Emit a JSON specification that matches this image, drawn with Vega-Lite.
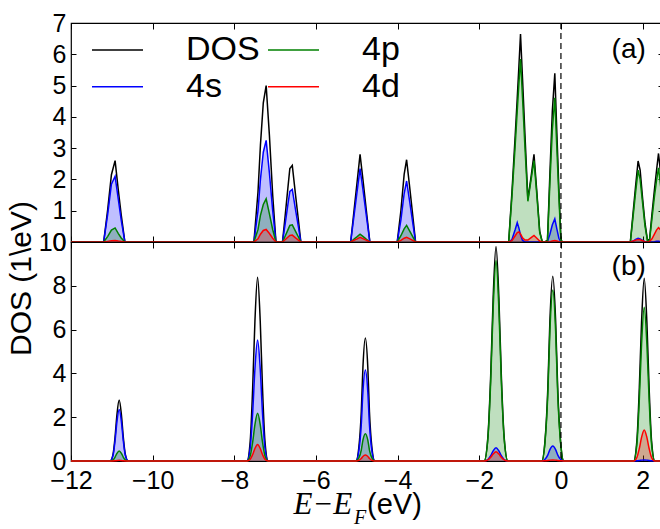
{
"$schema": "https://vega.github.io/schema/vega-lite/v6.json",
"background": "white",
"padding": {"left": 5, "top": 10, "right": 0, "bottom": 0},
"spacing": 0,
"bounds": "flush",
"config": {
  "font": "Liberation Sans",
  "view": {"stroke": "black", "strokeWidth": 1.2},
  "axis": {"grid": false, "domain": false, "tickColor": "black", "tickWidth": 1, "labelColor": "black", "labelFont": "Liberation Sans", "labelFontSize": 25, "labelFlush": false, "labelOverlap": false}
},
"resolve": {"scale": {"color": "independent"}},
"datasets": {
"a": [
{"s":"DOS","E":-12,"v":0},
{"s":"DOS","E":-11.2,"v":0},{"s":"DOS","E":-11.1,"v":1.05},{"s":"DOS","E":-11.01,"v":2.15},{"s":"DOS","E":-10.92,"v":2.6},{"s":"DOS","E":-10.84,"v":1.64},{"s":"DOS","E":-10.77,"v":0.87},{"s":"DOS","E":-10.68,"v":0},
{"s":"DOS","E":-7.52,"v":0},{"s":"DOS","E":-7.42,"v":1.6},{"s":"DOS","E":-7.36,"v":3.1},{"s":"DOS","E":-7.29,"v":4.45},{"s":"DOS","E":-7.22,"v":5.0},{"s":"DOS","E":-7.14,"v":3.4},{"s":"DOS","E":-7.06,"v":1.5},{"s":"DOS","E":-6.98,"v":0},
{"s":"DOS","E":-6.82,"v":0},{"s":"DOS","E":-6.75,"v":0.9},{"s":"DOS","E":-6.69,"v":1.7},{"s":"DOS","E":-6.64,"v":2.35},{"s":"DOS","E":-6.58,"v":2.45},{"s":"DOS","E":-6.5,"v":1.5},{"s":"DOS","E":-6.43,"v":0.7},{"s":"DOS","E":-6.37,"v":0},
{"s":"DOS","E":-5.15,"v":0},{"s":"DOS","E":-5.06,"v":1.1},{"s":"DOS","E":-4.99,"v":1.95},{"s":"DOS","E":-4.92,"v":2.8},{"s":"DOS","E":-4.85,"v":2.0},{"s":"DOS","E":-4.77,"v":1.05},{"s":"DOS","E":-4.68,"v":0},
{"s":"DOS","E":-4.01,"v":0},{"s":"DOS","E":-3.92,"v":1.0},{"s":"DOS","E":-3.84,"v":2.16},{"s":"DOS","E":-3.78,"v":2.63},{"s":"DOS","E":-3.7,"v":1.7},{"s":"DOS","E":-3.63,"v":0.85},{"s":"DOS","E":-3.56,"v":0},
{"s":"DOS","E":-1.28,"v":0},{"s":"DOS","E":-1.2,"v":1.6},{"s":"DOS","E":-1.12,"v":3.4},{"s":"DOS","E":-1.07,"v":4.6},{"s":"DOS","E":-1.03,"v":5.6},{"s":"DOS","E":-0.99,"v":6.65},{"s":"DOS","E":-0.94,"v":5.2},{"s":"DOS","E":-0.88,"v":3.4},{"s":"DOS","E":-0.81,"v":1.36},{"s":"DOS","E":-0.73,"v":2.1},{"s":"DOS","E":-0.66,"v":2.8},{"s":"DOS","E":-0.59,"v":1.6},{"s":"DOS","E":-0.52,"v":0.35},{"s":"DOS","E":-0.46,"v":0.02},{"s":"DOS","E":-0.4,"v":0},{"s":"DOS","E":-0.33,"v":0.05},{"s":"DOS","E":-0.27,"v":2.2},{"s":"DOS","E":-0.21,"v":4.2},{"s":"DOS","E":-0.15,"v":5.39},{"s":"DOS","E":-0.1,"v":3.5},{"s":"DOS","E":-0.05,"v":1.7},{"s":"DOS","E":0,"v":0.05},{"s":"DOS","E":0.05,"v":0},
{"s":"DOS","E":1.7,"v":0},{"s":"DOS","E":1.77,"v":0.97},{"s":"DOS","E":1.83,"v":1.8},{"s":"DOS","E":1.89,"v":2.59},{"s":"DOS","E":1.94,"v":2.3},{"s":"DOS","E":2.0,"v":1.4},{"s":"DOS","E":2.06,"v":0.6},{"s":"DOS","E":2.12,"v":0.05},{"s":"DOS","E":2.17,"v":0.08},{"s":"DOS","E":2.23,"v":0.9},{"s":"DOS","E":2.29,"v":1.67},{"s":"DOS","E":2.34,"v":2.27},{"s":"DOS","E":2.39,"v":2.83},{"s":"DOS","E":2.45,"v":2.1},{"s":"DOS","E":2.5,"v":1.5},

{"s":"4s","E":-12,"v":0},
{"s":"4s","E":-11.2,"v":0},{"s":"4s","E":-11.1,"v":0.9},{"s":"4s","E":-11.01,"v":1.85},{"s":"4s","E":-10.92,"v":2.1},{"s":"4s","E":-10.84,"v":1.35},{"s":"4s","E":-10.77,"v":0.7},{"s":"4s","E":-10.68,"v":0},
{"s":"4s","E":-7.52,"v":0},{"s":"4s","E":-7.42,"v":1.0},{"s":"4s","E":-7.36,"v":2.0},{"s":"4s","E":-7.29,"v":2.87},{"s":"4s","E":-7.22,"v":3.25},{"s":"4s","E":-7.14,"v":2.2},{"s":"4s","E":-7.06,"v":1.0},{"s":"4s","E":-6.98,"v":0},
{"s":"4s","E":-6.82,"v":0},{"s":"4s","E":-6.75,"v":0.62},{"s":"4s","E":-6.69,"v":1.18},{"s":"4s","E":-6.64,"v":1.62},{"s":"4s","E":-6.58,"v":1.68},{"s":"4s","E":-6.5,"v":1.03},{"s":"4s","E":-6.43,"v":0.48},{"s":"4s","E":-6.37,"v":0},
{"s":"4s","E":-5.15,"v":0},{"s":"4s","E":-5.06,"v":0.92},{"s":"4s","E":-4.99,"v":1.64},{"s":"4s","E":-4.92,"v":2.35},{"s":"4s","E":-4.85,"v":1.68},{"s":"4s","E":-4.77,"v":0.88},{"s":"4s","E":-4.68,"v":0},
{"s":"4s","E":-4.01,"v":0},{"s":"4s","E":-3.92,"v":0.7},{"s":"4s","E":-3.84,"v":1.55},{"s":"4s","E":-3.78,"v":1.95},{"s":"4s","E":-3.7,"v":1.25},{"s":"4s","E":-3.63,"v":0.62},{"s":"4s","E":-3.56,"v":0},
{"s":"4s","E":-1.28,"v":0},{"s":"4s","E":-1.2,"v":0.08},{"s":"4s","E":-1.12,"v":0.4},{"s":"4s","E":-1.07,"v":0.62},{"s":"4s","E":-1.03,"v":0.45},{"s":"4s","E":-0.99,"v":0.22},{"s":"4s","E":-0.94,"v":0.05},{"s":"4s","E":-0.88,"v":0},{"s":"4s","E":-0.4,"v":0},{"s":"4s","E":-0.33,"v":0.02},{"s":"4s","E":-0.27,"v":0.25},{"s":"4s","E":-0.21,"v":0.55},{"s":"4s","E":-0.15,"v":0.74},{"s":"4s","E":-0.1,"v":0.42},{"s":"4s","E":-0.05,"v":0.12},{"s":"4s","E":0,"v":0},{"s":"4s","E":0.05,"v":0},
{"s":"4s","E":1.7,"v":0},{"s":"4s","E":1.77,"v":0.03},{"s":"4s","E":1.83,"v":0.08},{"s":"4s","E":1.89,"v":0.12},{"s":"4s","E":1.94,"v":0.1},{"s":"4s","E":2.0,"v":0.05},{"s":"4s","E":2.06,"v":0.01},{"s":"4s","E":2.12,"v":0},{"s":"4s","E":2.23,"v":0},{"s":"4s","E":2.29,"v":0.01},{"s":"4s","E":2.34,"v":0.02},{"s":"4s","E":2.39,"v":0.02},{"s":"4s","E":2.45,"v":0.01},{"s":"4s","E":2.5,"v":0.01},

{"s":"4p","E":-12,"v":0},
{"s":"4p","E":-11.2,"v":0},{"s":"4p","E":-11.1,"v":0.18},{"s":"4p","E":-11.01,"v":0.38},{"s":"4p","E":-10.92,"v":0.45},{"s":"4p","E":-10.84,"v":0.27},{"s":"4p","E":-10.77,"v":0.13},{"s":"4p","E":-10.68,"v":0},
{"s":"4p","E":-7.52,"v":0},{"s":"4p","E":-7.42,"v":0.4},{"s":"4p","E":-7.36,"v":0.85},{"s":"4p","E":-7.29,"v":1.2},{"s":"4p","E":-7.22,"v":1.38},{"s":"4p","E":-7.14,"v":0.9},{"s":"4p","E":-7.06,"v":0.4},{"s":"4p","E":-6.98,"v":0},
{"s":"4p","E":-6.82,"v":0},{"s":"4p","E":-6.75,"v":0.2},{"s":"4p","E":-6.69,"v":0.38},{"s":"4p","E":-6.64,"v":0.53},{"s":"4p","E":-6.58,"v":0.55},{"s":"4p","E":-6.5,"v":0.34},{"s":"4p","E":-6.43,"v":0.16},{"s":"4p","E":-6.37,"v":0},
{"s":"4p","E":-5.15,"v":0},{"s":"4p","E":-5.06,"v":0.1},{"s":"4p","E":-4.99,"v":0.17},{"s":"4p","E":-4.92,"v":0.25},{"s":"4p","E":-4.85,"v":0.18},{"s":"4p","E":-4.77,"v":0.09},{"s":"4p","E":-4.68,"v":0},
{"s":"4p","E":-4.01,"v":0},{"s":"4p","E":-3.92,"v":0.2},{"s":"4p","E":-3.84,"v":0.42},{"s":"4p","E":-3.78,"v":0.53},{"s":"4p","E":-3.7,"v":0.34},{"s":"4p","E":-3.63,"v":0.17},{"s":"4p","E":-3.56,"v":0},
{"s":"4p","E":-1.28,"v":0},{"s":"4p","E":-1.2,"v":1.45},{"s":"4p","E":-1.12,"v":3.1},{"s":"4p","E":-1.07,"v":4.2},{"s":"4p","E":-1.03,"v":5.05},{"s":"4p","E":-0.99,"v":5.85},{"s":"4p","E":-0.94,"v":4.6},{"s":"4p","E":-0.88,"v":3.0},{"s":"4p","E":-0.81,"v":1.3},{"s":"4p","E":-0.73,"v":2.0},{"s":"4p","E":-0.66,"v":2.6},{"s":"4p","E":-0.59,"v":1.5},{"s":"4p","E":-0.52,"v":0.3},{"s":"4p","E":-0.46,"v":0.02},{"s":"4p","E":-0.4,"v":0},{"s":"4p","E":-0.33,"v":0.03},{"s":"4p","E":-0.27,"v":1.9},{"s":"4p","E":-0.21,"v":3.6},{"s":"4p","E":-0.15,"v":4.61},{"s":"4p","E":-0.1,"v":3.0},{"s":"4p","E":-0.05,"v":1.45},{"s":"4p","E":0,"v":0.04},{"s":"4p","E":0.05,"v":0},
{"s":"4p","E":1.7,"v":0},{"s":"4p","E":1.77,"v":0.85},{"s":"4p","E":1.83,"v":1.6},{"s":"4p","E":1.89,"v":2.3},{"s":"4p","E":1.94,"v":2.0},{"s":"4p","E":2.0,"v":1.25},{"s":"4p","E":2.06,"v":0.5},{"s":"4p","E":2.12,"v":0.04},{"s":"4p","E":2.17,"v":0.05},{"s":"4p","E":2.23,"v":0.75},{"s":"4p","E":2.29,"v":1.45},{"s":"4p","E":2.34,"v":1.95},{"s":"4p","E":2.39,"v":2.37},{"s":"4p","E":2.45,"v":1.7},{"s":"4p","E":2.5,"v":1.15},

{"s":"4d","E":-12,"v":0},
{"s":"4d","E":-11.2,"v":0},{"s":"4d","E":-11.1,"v":0.02},{"s":"4d","E":-11.01,"v":0.04},{"s":"4d","E":-10.92,"v":0.05},{"s":"4d","E":-10.84,"v":0.03},{"s":"4d","E":-10.77,"v":0.02},{"s":"4d","E":-10.68,"v":0},
{"s":"4d","E":-7.52,"v":0},{"s":"4d","E":-7.42,"v":0.1},{"s":"4d","E":-7.36,"v":0.25},{"s":"4d","E":-7.29,"v":0.37},{"s":"4d","E":-7.22,"v":0.4},{"s":"4d","E":-7.14,"v":0.27},{"s":"4d","E":-7.06,"v":0.12},{"s":"4d","E":-6.98,"v":0},
{"s":"4d","E":-6.82,"v":0},{"s":"4d","E":-6.75,"v":0.08},{"s":"4d","E":-6.69,"v":0.15},{"s":"4d","E":-6.64,"v":0.21},{"s":"4d","E":-6.58,"v":0.22},{"s":"4d","E":-6.5,"v":0.13},{"s":"4d","E":-6.43,"v":0.06},{"s":"4d","E":-6.37,"v":0},
{"s":"4d","E":-5.15,"v":0},{"s":"4d","E":-5.06,"v":0.06},{"s":"4d","E":-4.99,"v":0.1},{"s":"4d","E":-4.92,"v":0.15},{"s":"4d","E":-4.85,"v":0.11},{"s":"4d","E":-4.77,"v":0.06},{"s":"4d","E":-4.68,"v":0},
{"s":"4d","E":-4.01,"v":0},{"s":"4d","E":-3.92,"v":0.05},{"s":"4d","E":-3.84,"v":0.12},{"s":"4d","E":-3.78,"v":0.15},{"s":"4d","E":-3.7,"v":0.1},{"s":"4d","E":-3.63,"v":0.05},{"s":"4d","E":-3.56,"v":0},
{"s":"4d","E":-1.28,"v":0},{"s":"4d","E":-1.2,"v":0.04},{"s":"4d","E":-1.12,"v":0.2},{"s":"4d","E":-1.07,"v":0.3},{"s":"4d","E":-1.03,"v":0.32},{"s":"4d","E":-0.99,"v":0.26},{"s":"4d","E":-0.94,"v":0.13},{"s":"4d","E":-0.88,"v":0.06},{"s":"4d","E":-0.81,"v":0.06},{"s":"4d","E":-0.73,"v":0.14},{"s":"4d","E":-0.66,"v":0.21},{"s":"4d","E":-0.59,"v":0.12},{"s":"4d","E":-0.52,"v":0.03},{"s":"4d","E":-0.46,"v":0},{"s":"4d","E":-0.33,"v":0},{"s":"4d","E":-0.27,"v":0.01},{"s":"4d","E":-0.21,"v":0.03},{"s":"4d","E":-0.15,"v":0.05},{"s":"4d","E":-0.1,"v":0.03},{"s":"4d","E":-0.05,"v":0.01},{"s":"4d","E":0,"v":0},
{"s":"4d","E":1.7,"v":0},{"s":"4d","E":1.77,"v":0.03},{"s":"4d","E":1.83,"v":0.06},{"s":"4d","E":1.89,"v":0.08},{"s":"4d","E":1.94,"v":0.07},{"s":"4d","E":2.0,"v":0.04},{"s":"4d","E":2.06,"v":0.01},{"s":"4d","E":2.12,"v":0},{"s":"4d","E":2.17,"v":0.02},{"s":"4d","E":2.23,"v":0.1},{"s":"4d","E":2.29,"v":0.25},{"s":"4d","E":2.34,"v":0.38},{"s":"4d","E":2.39,"v":0.46},{"s":"4d","E":2.45,"v":0.38},{"s":"4d","E":2.5,"v":0.3}
],
"b": [
{"s":"DOS","E":-12,"v":0},
{"s":"DOS","E":-11.04,"v":0},{"s":"DOS","E":-10.97,"v":0.31},{"s":"DOS","E":-10.92,"v":1.11},{"s":"DOS","E":-10.875,"v":2.11},{"s":"DOS","E":-10.82,"v":2.78},{"s":"DOS","E":-10.765,"v":2.11},{"s":"DOS","E":-10.72,"v":1.11},{"s":"DOS","E":-10.67,"v":0.31},{"s":"DOS","E":-10.6,"v":0},
{"s":"DOS","E":-7.69,"v":0},{"s":"DOS","E":-7.61,"v":0.92},{"s":"DOS","E":-7.55,"v":3.36},{"s":"DOS","E":-7.495,"v":6.38},{"s":"DOS","E":-7.43,"v":8.39},{"s":"DOS","E":-7.365,"v":6.38},{"s":"DOS","E":-7.31,"v":3.36},{"s":"DOS","E":-7.25,"v":0.92},{"s":"DOS","E":-7.17,"v":0},
{"s":"DOS","E":-5.02,"v":0},{"s":"DOS","E":-4.95,"v":0.62},{"s":"DOS","E":-4.89,"v":2.25},{"s":"DOS","E":-4.85,"v":4.27},{"s":"DOS","E":-4.79,"v":5.62},{"s":"DOS","E":-4.73,"v":4.27},{"s":"DOS","E":-4.69,"v":2.25},{"s":"DOS","E":-4.63,"v":0.62},{"s":"DOS","E":-4.56,"v":0},
{"s":"DOS","E":-1.88,"v":0},{"s":"DOS","E":-1.79,"v":1.08},{"s":"DOS","E":-1.72,"v":3.92},{"s":"DOS","E":-1.66,"v":7.45},{"s":"DOS","E":-1.59,"v":9.8},{"s":"DOS","E":-1.52,"v":7.45},{"s":"DOS","E":-1.46,"v":3.92},{"s":"DOS","E":-1.39,"v":1.08},{"s":"DOS","E":-1.3,"v":0},
{"s":"DOS","E":-0.47,"v":0},{"s":"DOS","E":-0.39,"v":0.93},{"s":"DOS","E":-0.32,"v":3.38},{"s":"DOS","E":-0.27,"v":6.41},{"s":"DOS","E":-0.2,"v":8.44},{"s":"DOS","E":-0.13,"v":6.41},{"s":"DOS","E":-0.08,"v":3.38},{"s":"DOS","E":-0.01,"v":0.93},{"s":"DOS","E":0.07,"v":0},
{"s":"DOS","E":1.78,"v":0},{"s":"DOS","E":1.86,"v":0.92},{"s":"DOS","E":1.92,"v":3.34},{"s":"DOS","E":1.975,"v":6.35},{"s":"DOS","E":2.04,"v":8.35},{"s":"DOS","E":2.105,"v":6.35},{"s":"DOS","E":2.16,"v":3.34},{"s":"DOS","E":2.22,"v":0.92},{"s":"DOS","E":2.3,"v":0},
{"s":"DOS","E":2.5,"v":0},

{"s":"4s","E":-12,"v":0},
{"s":"4s","E":-11.04,"v":0},{"s":"4s","E":-10.97,"v":0.26},{"s":"4s","E":-10.92,"v":0.94},{"s":"4s","E":-10.875,"v":1.79},{"s":"4s","E":-10.82,"v":2.35},{"s":"4s","E":-10.765,"v":1.79},{"s":"4s","E":-10.72,"v":0.94},{"s":"4s","E":-10.67,"v":0.26},{"s":"4s","E":-10.6,"v":0},
{"s":"4s","E":-7.69,"v":0},{"s":"4s","E":-7.61,"v":0.61},{"s":"4s","E":-7.55,"v":2.21},{"s":"4s","E":-7.495,"v":4.2},{"s":"4s","E":-7.43,"v":5.52},{"s":"4s","E":-7.365,"v":4.2},{"s":"4s","E":-7.31,"v":2.21},{"s":"4s","E":-7.25,"v":0.61},{"s":"4s","E":-7.17,"v":0},
{"s":"4s","E":-5.02,"v":0},{"s":"4s","E":-4.95,"v":0.46},{"s":"4s","E":-4.89,"v":1.66},{"s":"4s","E":-4.85,"v":3.15},{"s":"4s","E":-4.79,"v":4.15},{"s":"4s","E":-4.73,"v":3.15},{"s":"4s","E":-4.69,"v":1.66},{"s":"4s","E":-4.63,"v":0.46},{"s":"4s","E":-4.56,"v":0},
{"s":"4s","E":-1.88,"v":0},{"s":"4s","E":-1.79,"v":0.07},{"s":"4s","E":-1.72,"v":0.24},{"s":"4s","E":-1.66,"v":0.46},{"s":"4s","E":-1.59,"v":0.61},{"s":"4s","E":-1.52,"v":0.46},{"s":"4s","E":-1.46,"v":0.24},{"s":"4s","E":-1.39,"v":0.07},{"s":"4s","E":-1.3,"v":0},
{"s":"4s","E":-0.47,"v":0},{"s":"4s","E":-0.39,"v":0.08},{"s":"4s","E":-0.32,"v":0.28},{"s":"4s","E":-0.27,"v":0.52},{"s":"4s","E":-0.2,"v":0.69},{"s":"4s","E":-0.13,"v":0.52},{"s":"4s","E":-0.08,"v":0.28},{"s":"4s","E":-0.01,"v":0.08},{"s":"4s","E":0.07,"v":0},
{"s":"4s","E":1.78,"v":0},{"s":"4s","E":1.86,"v":0.01},{"s":"4s","E":1.92,"v":0.02},{"s":"4s","E":1.975,"v":0.04},{"s":"4s","E":2.04,"v":0.05},{"s":"4s","E":2.105,"v":0.04},{"s":"4s","E":2.16,"v":0.02},{"s":"4s","E":2.22,"v":0.01},{"s":"4s","E":2.3,"v":0},
{"s":"4s","E":2.5,"v":0},

{"s":"4p","E":-12,"v":0},
{"s":"4p","E":-11.04,"v":0},{"s":"4p","E":-10.97,"v":0.05},{"s":"4p","E":-10.92,"v":0.18},{"s":"4p","E":-10.875,"v":0.35},{"s":"4p","E":-10.82,"v":0.46},{"s":"4p","E":-10.765,"v":0.35},{"s":"4p","E":-10.72,"v":0.18},{"s":"4p","E":-10.67,"v":0.05},{"s":"4p","E":-10.6,"v":0},
{"s":"4p","E":-7.69,"v":0},{"s":"4p","E":-7.61,"v":0.24},{"s":"4p","E":-7.55,"v":0.87},{"s":"4p","E":-7.495,"v":1.66},{"s":"4p","E":-7.43,"v":2.18},{"s":"4p","E":-7.365,"v":1.66},{"s":"4p","E":-7.31,"v":0.87},{"s":"4p","E":-7.25,"v":0.24},{"s":"4p","E":-7.17,"v":0},
{"s":"4p","E":-5.02,"v":0},{"s":"4p","E":-4.95,"v":0.14},{"s":"4p","E":-4.89,"v":0.5},{"s":"4p","E":-4.85,"v":0.95},{"s":"4p","E":-4.79,"v":1.25},{"s":"4p","E":-4.73,"v":0.95},{"s":"4p","E":-4.69,"v":0.5},{"s":"4p","E":-4.63,"v":0.14},{"s":"4p","E":-4.56,"v":0},
{"s":"4p","E":-1.88,"v":0},{"s":"4p","E":-1.79,"v":1.01},{"s":"4p","E":-1.72,"v":3.66},{"s":"4p","E":-1.66,"v":6.96},{"s":"4p","E":-1.59,"v":9.16},{"s":"4p","E":-1.52,"v":6.96},{"s":"4p","E":-1.46,"v":3.66},{"s":"4p","E":-1.39,"v":1.01},{"s":"4p","E":-1.3,"v":0},
{"s":"4p","E":-0.47,"v":0},{"s":"4p","E":-0.39,"v":0.86},{"s":"4p","E":-0.32,"v":3.12},{"s":"4p","E":-0.27,"v":5.94},{"s":"4p","E":-0.2,"v":7.81},{"s":"4p","E":-0.13,"v":5.94},{"s":"4p","E":-0.08,"v":3.12},{"s":"4p","E":-0.01,"v":0.86},{"s":"4p","E":0.07,"v":0},
{"s":"4p","E":1.78,"v":0},{"s":"4p","E":1.86,"v":0.77},{"s":"4p","E":1.92,"v":2.81},{"s":"4p","E":1.975,"v":5.34},{"s":"4p","E":2.04,"v":7.02},{"s":"4p","E":2.105,"v":5.34},{"s":"4p","E":2.16,"v":2.81},{"s":"4p","E":2.22,"v":0.77},{"s":"4p","E":2.3,"v":0},
{"s":"4p","E":2.5,"v":0},

{"s":"4d","E":-12,"v":0},
{"s":"4d","E":-11.04,"v":0},{"s":"4d","E":-10.92,"v":0.01},{"s":"4d","E":-10.875,"v":0.02},{"s":"4d","E":-10.82,"v":0.03},{"s":"4d","E":-10.765,"v":0.02},{"s":"4d","E":-10.72,"v":0.01},{"s":"4d","E":-10.6,"v":0},
{"s":"4d","E":-7.69,"v":0},{"s":"4d","E":-7.61,"v":0.08},{"s":"4d","E":-7.55,"v":0.3},{"s":"4d","E":-7.495,"v":0.57},{"s":"4d","E":-7.43,"v":0.75},{"s":"4d","E":-7.365,"v":0.57},{"s":"4d","E":-7.31,"v":0.3},{"s":"4d","E":-7.25,"v":0.08},{"s":"4d","E":-7.17,"v":0},
{"s":"4d","E":-5.02,"v":0},{"s":"4d","E":-4.95,"v":0.03},{"s":"4d","E":-4.89,"v":0.11},{"s":"4d","E":-4.85,"v":0.21},{"s":"4d","E":-4.79,"v":0.27},{"s":"4d","E":-4.73,"v":0.21},{"s":"4d","E":-4.69,"v":0.11},{"s":"4d","E":-4.63,"v":0.03},{"s":"4d","E":-4.56,"v":0},
{"s":"4d","E":-1.88,"v":0},{"s":"4d","E":-1.79,"v":0.05},{"s":"4d","E":-1.72,"v":0.17},{"s":"4d","E":-1.66,"v":0.32},{"s":"4d","E":-1.59,"v":0.42},{"s":"4d","E":-1.52,"v":0.32},{"s":"4d","E":-1.46,"v":0.17},{"s":"4d","E":-1.39,"v":0.05},{"s":"4d","E":-1.3,"v":0},
{"s":"4d","E":-0.47,"v":0},{"s":"4d","E":-0.39,"v":0.01},{"s":"4d","E":-0.32,"v":0.02},{"s":"4d","E":-0.27,"v":0.04},{"s":"4d","E":-0.2,"v":0.05},{"s":"4d","E":-0.13,"v":0.04},{"s":"4d","E":-0.08,"v":0.02},{"s":"4d","E":-0.01,"v":0.01},{"s":"4d","E":0.07,"v":0},
{"s":"4d","E":1.78,"v":0},{"s":"4d","E":1.86,"v":0.16},{"s":"4d","E":1.92,"v":0.57},{"s":"4d","E":1.975,"v":1.08},{"s":"4d","E":2.04,"v":1.42},{"s":"4d","E":2.105,"v":1.08},{"s":"4d","E":2.16,"v":0.57},{"s":"4d","E":2.22,"v":0.16},{"s":"4d","E":2.3,"v":0},
{"s":"4d","E":2.5,"v":0}
]
},
"vconcat": [
{
  "width": 592, "height": 219,
  "data": {"name": "a"},
  "resolve": {"axis": {"x": "independent", "y": "independent"}},
  "layer": [
    {
      "transform": [{"filter": "datum.s !== 'DOS'"}],
      "mark": {"type": "area", "opacity": 0.25},
      "encoding": {
        "x": {"field": "E", "type": "quantitative", "scale": {"domain": [-12, 2.5], "nice": false, "zero": false},
              "axis": {"orient": "bottom", "title": null, "labels": false, "values": [-12,-10,-8,-6,-4,-2,0,2], "tickSize": -6}},
        "y": {"field": "v", "type": "quantitative", "stack": null, "scale": {"domain": [0, 7], "nice": false},
              "axis": {"orient": "left", "title": null, "values": [0,1,2,3,4,5,6,7], "tickSize": -5, "labelPadding": 10}},
        "fill": {"field": "s", "type": "nominal", "scale": {"domain": ["DOS","4p","4s","4d"], "range": ["black","green","blue","red"]}, "legend": null}
      }
    },
    {
      "mark": {"type": "line", "strokeWidth": 1.5},
      "encoding": {
        "x": {"field": "E", "type": "quantitative", "axis": {"orient": "top", "title": null, "labels": false, "values": [-12,-10,-8,-6,-4,-2,0,2], "tickSize": -6}},
        "y": {"field": "v", "type": "quantitative", "axis": {"orient": "right", "title": null, "labels": false, "values": [0,1,2,3,4,5,6,7], "tickSize": -5}},
        "color": {"field": "s", "type": "nominal", "scale": {"domain": ["DOS","4p","4s","4d"], "range": ["black","green","blue","red"]},
          "legend": {"orient": "none", "legendX": 20, "legendY": 9, "columns": 2, "direction": "horizontal", "symbolType": "stroke", "symbolSize": 2601, "symbolStrokeWidth": 1.5, "clipHeight": 36, "labelFontSize": 34, "labelFont": "Liberation Sans", "labelColor": "black", "labelOffset": 42, "columnPadding": 7, "rowPadding": 0.7, "padding": 0, "title": null}}
      }
    },
    {
      "data": {"values": [{}]},
      "mark": {"type": "rule", "color": "black", "strokeWidth": 1.2, "strokeDash": [6, 4]},
      "encoding": {"x": {"datum": 0, "type": "quantitative", "axis": null}}
    },
    {
      "data": {"values": [{}]},
      "mark": {"type": "text", "text": "(a)", "font": "Liberation Sans", "fontSize": 28, "color": "black", "align": "center", "baseline": "middle"},
      "encoding": {"x": {"datum": 1.66, "type": "quantitative", "axis": null}, "y": {"datum": 6.13, "type": "quantitative", "axis": null}}
    }
  ]
},
{
  "width": 592, "height": 219,
  "data": {"name": "b"},
  "resolve": {"axis": {"x": "independent", "y": "independent"}},
  "layer": [
    {
      "transform": [{"filter": "datum.s !== 'DOS'"}],
      "mark": {"type": "area", "opacity": 0.25, "interpolate": "monotone"},
      "encoding": {
        "x": {"field": "E", "type": "quantitative", "scale": {"domain": [-12, 2.5], "nice": false, "zero": false},
              "axis": {"orient": "bottom", "title": null, "values": [-12,-10,-8,-6,-4,-2,0,2], "tickSize": -6, "labelPadding": 13}},
        "y": {"field": "v", "type": "quantitative", "stack": null, "scale": {"domain": [0, 10], "nice": false},
              "axis": {"orient": "left", "values": [0,2,4,6,8,10], "tickSize": -5, "labelPadding": 10,
                       "title": "DOS (1\\eV)", "titleFont": "Liberation Sans", "titleFontSize": 30, "titleFontWeight": "normal", "titleColor": "black",
                       "titleX": -41, "titleY": 36, "titleAngle": 270, "titleAlign": "center", "titleBaseline": "alphabetic"}},
        "fill": {"field": "s", "type": "nominal", "scale": {"domain": ["DOS","4p","4s","4d"], "range": ["black","green","blue","red"]}, "legend": null}
      }
    },
    {
      "mark": {"type": "line", "strokeWidth": 1.5, "interpolate": "monotone"},
      "encoding": {
        "x": {"field": "E", "type": "quantitative", "axis": {"orient": "top", "title": null, "labels": false, "values": [-12,-10,-8,-6,-4,-2,0,2], "tickSize": -6}},
        "y": {"field": "v", "type": "quantitative", "axis": {"orient": "right", "title": null, "labels": false, "values": [0,2,4,6,8,10], "tickSize": -5}},
        "color": {"field": "s", "type": "nominal", "scale": {"domain": ["DOS","4p","4s","4d"], "range": ["black","green","blue","red"]}, "legend": null}
      }
    },
    {
      "data": {"values": [{}]},
      "mark": {"type": "rule", "color": "black", "strokeWidth": 1.2, "strokeDash": [6, 4]},
      "encoding": {"x": {"datum": 0, "type": "quantitative", "axis": null}}
    },
    {
      "data": {"values": [{}]},
      "mark": {"type": "text", "text": "(b)", "font": "Liberation Sans", "fontSize": 28, "color": "black", "align": "center", "baseline": "middle"},
      "encoding": {"x": {"datum": 1.66, "type": "quantitative", "axis": null}, "y": {"datum": 8.84, "type": "quantitative", "axis": null}}
    },
    {
      "data": {"values": [{}]},
      "mark": {"type": "text", "text": "E−E", "font": "Liberation Serif", "fontStyle": "italic", "fontSize": 31, "color": "black", "align": "left", "baseline": "alphabetic"},
      "encoding": {"x": {"datum": -6.55, "type": "quantitative", "axis": null}, "y": {"datum": -2.44, "type": "quantitative", "axis": null}}
    },
    {
      "data": {"values": [{}]},
      "mark": {"type": "text", "text": "F", "font": "Liberation Serif", "fontStyle": "italic", "fontSize": 20, "color": "black", "align": "left", "baseline": "alphabetic"},
      "encoding": {"x": {"datum": -5.07, "type": "quantitative", "axis": null}, "y": {"datum": -2.88, "type": "quantitative", "axis": null}}
    },
    {
      "data": {"values": [{}]},
      "mark": {"type": "text", "text": "(eV)", "font": "Liberation Sans", "fontSize": 29, "color": "black", "align": "left", "baseline": "alphabetic"},
      "encoding": {"x": {"datum": -4.75, "type": "quantitative", "axis": null}, "y": {"datum": -2.44, "type": "quantitative", "axis": null}}
    }
  ]
}
]
}
